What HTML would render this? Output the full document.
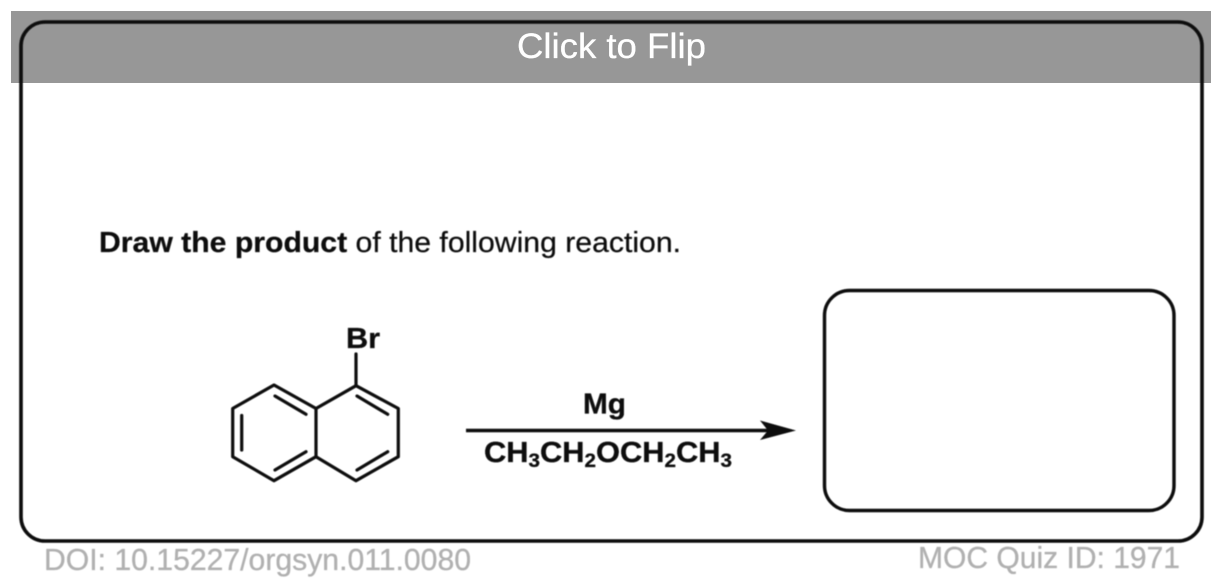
<!DOCTYPE html>
<html>
<head>
<meta charset="utf-8">
<style>
html,body{margin:0;padding:0;background:#fff;width:1220px;height:588px;overflow:hidden}
svg{display:block}
text{font-family:"Liberation Sans",Arial,sans-serif}
</style>
</head>
<body>
<svg width="1220" height="588" viewBox="0 0 1220 588" xmlns="http://www.w3.org/2000/svg">
<defs>
<filter id="b" x="-5%" y="-5%" width="110%" height="110%"><feGaussianBlur stdDeviation="0.55"/></filter>
<filter id="c" x="-5%" y="-20%" width="110%" height="140%"><feGaussianBlur stdDeviation="0.5"/></filter>
</defs>
<rect width="1220" height="588" fill="#fff"/>
<rect x="11" y="11" width="1200" height="72" fill="#979797"/>
<rect x="21" y="22" width="1181" height="519" rx="24" ry="24" fill="none" stroke="#0a0a0a" stroke-width="3.6" filter="url(#b)"/>
<text x="517" y="58" fill="#fff" stroke="#fff" stroke-width="0.3" font-size="35" textLength="189" lengthAdjust="spacingAndGlyphs">Click to Flip</text>

<g filter="url(#c)">
<text x="99" y="252" fill="#111" stroke="#111" stroke-width="0.25" font-size="28.5" textLength="582" lengthAdjust="spacingAndGlyphs"><tspan font-weight="bold">Draw the product</tspan> of the following reaction.</text>
</g>

<g filter="url(#b)" stroke="#0a0a0a" fill="none" stroke-width="3.2" stroke-linecap="round" stroke-linejoin="round">
<path d="M274 385 L232.7 408.5 L232.7 456.7 L274 480.7 L316 456.7 L316 408.5 Z"/>
<path d="M316 408.5 L356 385.7 L398.3 408.5 L398.3 456.7 L356 480.7 L316 456.7"/>
<path d="M356 385.7 L356 354"/>
<path d="M241.7 415.5 L241.7 450"/>
<path d="M275 396 L306 414.3"/>
<path d="M275 470 L306 451.7"/>
<path d="M357 396 L387.7 414.3"/>
<path d="M357 470 L387.7 451.7"/>
</g>
<g filter="url(#c)" fill="#0a0a0a" stroke="#0a0a0a" stroke-width="0.3" font-weight="bold">
<text x="346" y="348" font-size="29" textLength="34" lengthAdjust="spacingAndGlyphs">Br</text>
<text x="583" y="413.5" font-size="29" textLength="43" lengthAdjust="spacingAndGlyphs">Mg</text>
<text x="484" y="462" font-size="28.5" textLength="248" lengthAdjust="spacingAndGlyphs">CH<tspan font-size="19" dy="5">3</tspan><tspan dy="-5">CH</tspan><tspan font-size="19" dy="5">2</tspan><tspan dy="-5">OCH</tspan><tspan font-size="19" dy="5">2</tspan><tspan dy="-5">CH</tspan><tspan font-size="19" dy="5">3</tspan></text>
</g>
<g filter="url(#b)">
<path d="M466 430.5 L772 430.5" stroke="#0a0a0a" stroke-width="3.6" fill="none"/>
<path d="M796 430.5 L760 420.5 L768 430.5 L760 440 Z" fill="#0a0a0a"/>
<rect x="824.5" y="290.5" width="349.5" height="220" rx="25" ry="25" fill="none" stroke="#0a0a0a" stroke-width="3.4"/>
</g>
<g filter="url(#c)" fill="#b0b0b0" stroke="#b0b0b0" stroke-width="0.3" font-size="30.5">
<text x="44" y="570" textLength="427" lengthAdjust="spacingAndGlyphs">DOI: 10.15227/orgsyn.011.0080</text>
<text x="918" y="568" textLength="262" lengthAdjust="spacingAndGlyphs">MOC Quiz ID: 1971</text>
</g>
</svg>
</body>
</html>
